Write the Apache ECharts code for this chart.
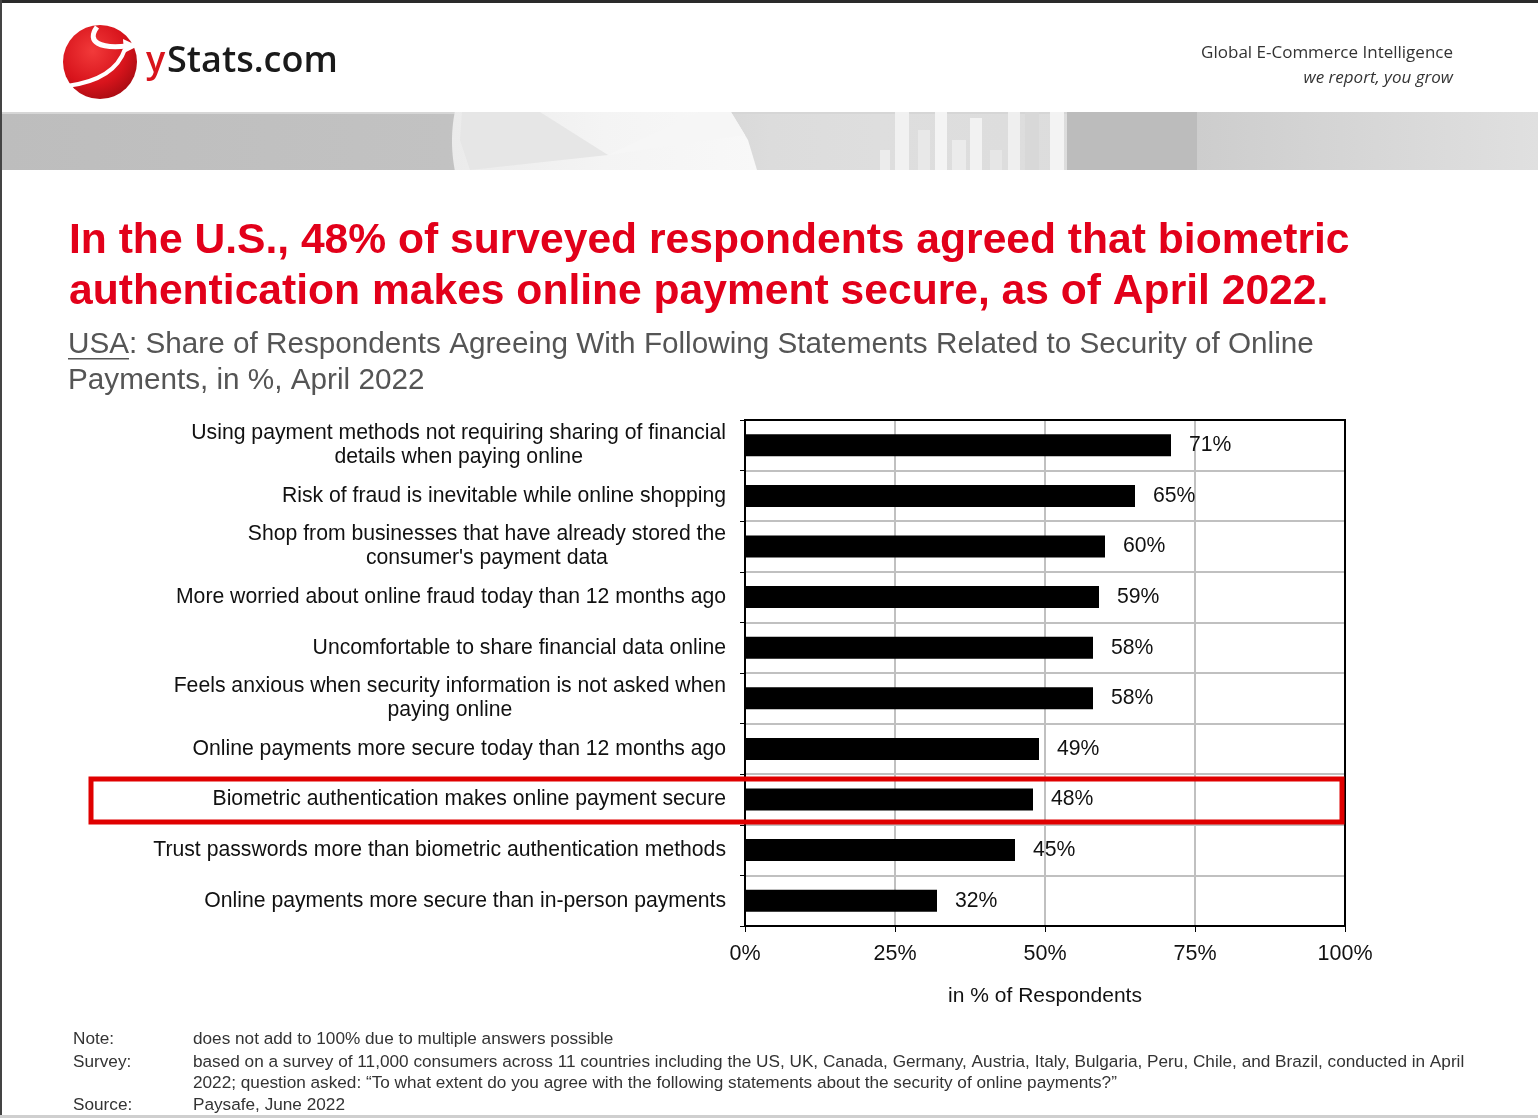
<!DOCTYPE html>
<html>
<head>
<meta charset="utf-8">
<script src="https://cdn.jsdelivr.net/npm/echarts@6/dist/echarts.min.js"></script>
<style>
html,body{margin:0;padding:0;background:#fff;}
#chart{width:1538px;height:1118px;}
</style>
</head>
<body>
<div id="chart"></div>
<script>
const categories = [
  'Using payment methods not requiring sharing of financial\ndetails when paying online',
  'Risk of fraud is inevitable while online shopping',
  'Shop from businesses that have already stored the\nconsumer\'s payment data',
  'More worried about online fraud today than 12 months ago',
  'Uncomfortable to share financial data online',
  'Feels anxious when security information is not asked when\npaying online',
  'Online payments more secure today than 12 months ago',
  'Biometric authentication makes online payment secure',
  'Trust passwords more than biometric authentication methods',
  'Online payments more secure than in-person payments'
];
const values = [71, 65, 60, 59, 58, 58, 49, 48, 45, 32];
const xTicks = [0, 25, 50, 75, 100];

const chart = echarts.init(document.getElementById('chart'), null, {renderer: 'canvas'});
const FONT = '"Liberation Sans", Arial, sans-serif';

// decorative banner pie outline (left arc)
const piePts = [];
for (let y = 112; y <= 170; y += 2) {
  const dy = y - 141;
  piePts.push([605 - Math.sqrt(153 * 153 - dy * dy), y]);
}
piePts.push([757, 170]);
piePts.push([748, 140]);
piePts.push([731, 112]);

const option = {
  animation: false,
  backgroundColor: '#ffffff',
  grid: {left: 745, top: 420, width: 600, height: 506, show: false, containLabel: false},
  xAxis: {
    type: 'value', min: xTicks[0], max: xTicks[xTicks.length - 1], interval: 25,
    axisLine: {show: true, lineStyle: {color: '#000', width: 2}},
    axisTick: {show: true, length: 6, lineStyle: {color: '#000'}},
    splitLine: {show: true, lineStyle: {color: '#c0c0c0', width: 2}},
    axisLabel: {formatter: '{value}%', fontFamily: FONT, fontSize: 21.5, color: '#111', margin: 17},
    name: 'in % of Respondents', nameLocation: 'middle', nameGap: 60,
    nameTextStyle: {fontFamily: FONT, fontSize: 21, color: '#111'}
  },
  yAxis: {
    type: 'category', data: categories, inverse: true,
    axisLine: {show: true, lineStyle: {color: '#000', width: 2}},
    axisTick: {show: true, length: 5, lineStyle: {color: '#000'}},
    splitLine: {show: true, lineStyle: {color: '#c0c0c0', width: 2}},
    axisLabel: {
      margin: 19, align: 'right', fontFamily: FONT, fontSize: 21.2, color: '#111', lineHeight: 24,
      formatter: v => v.split('\n').map(l => '{c|' + l + '}').join('\n'),
      rich: {c: {align: 'center', fontFamily: FONT, fontSize: 21.2, color: '#111', lineHeight: 24}}
    }
  },
  series: [{
    type: 'bar', data: values, barWidth: 22,
    itemStyle: {color: '#000'},
    label: {show: true, position: 'right', distance: 18, formatter: '{c}%', fontFamily: FONT, fontSize: 21.2, color: '#111'}
  }],
  graphic: [
    // frame edges
    {type: 'rect', shape: {x: 0, y: 0, width: 1538, height: 3}, style: {fill: '#2a2a2a'}, z: 100},
    {type: 'rect', shape: {x: 0, y: 0, width: 2, height: 1118}, style: {fill: '#444'}, z: 100},
    {type: 'rect', shape: {x: 0, y: 1115, width: 1538, height: 3}, style: {fill: '#cfcfcf'}, z: 100},
    // plot frame
    {type: 'rect', shape: {x: 745, y: 420, width: 600, height: 506}, style: {fill: 'none', stroke: '#000', lineWidth: 2}, z: 40},
    // banner
    {type: 'rect', shape: {x: 2, y: 112, width: 1536, height: 58},
      style: {fill: new echarts.graphic.LinearGradient(0, 0, 1, 0, [
        {offset: 0, color: '#bdbdbd'}, {offset: 0.29, color: '#c2c2c2'}, {offset: 0.5, color: '#dcdcdc'},
        {offset: 0.57, color: '#dedede'}, {offset: 1, color: '#d9d9d9'}])}},
    {type: 'rect', shape: {x: 2, y: 112, width: 1536, height: 2}, style: {fill: '#d6d6d6'}},
    {type: 'polygon', shape: {points: piePts},
      style: {fill: new echarts.graphic.LinearGradient(0, 0, 1, 0, [
        {offset: 0, color: '#ebebeb'}, {offset: 0.5, color: '#f4f4f4'}, {offset: 1, color: '#f8f8f8'}])}},
    {type: 'polygon', shape: {points: [[540, 112], [608, 155], [470, 170], [460, 140], [462, 112]]}, style: {fill: '#e6e6e6'}},
    {type: 'polygon', shape: {points: [[608, 155], [700, 112], [731, 112], [745, 135]]}, style: {fill: '#f6f6f6'}},
    {type: 'rect', shape: {x: 880, y: 150, width: 10, height: 20}, style: {fill: '#ececec'}},
    {type: 'rect', shape: {x: 895, y: 112, width: 14, height: 58}, style: {fill: '#f1f1f1'}},
    {type: 'rect', shape: {x: 918, y: 130, width: 12, height: 40}, style: {fill: '#e8e8e8'}},
    {type: 'rect', shape: {x: 935, y: 112, width: 12, height: 58}, style: {fill: '#f4f4f4'}},
    {type: 'rect', shape: {x: 952, y: 140, width: 14, height: 30}, style: {fill: '#ebebeb'}},
    {type: 'rect', shape: {x: 970, y: 118, width: 12, height: 52}, style: {fill: '#f2f2f2'}},
    {type: 'rect', shape: {x: 990, y: 150, width: 12, height: 20}, style: {fill: '#e6e6e6'}},
    {type: 'rect', shape: {x: 1008, y: 112, width: 12, height: 58}, style: {fill: '#efefef'}},
    {type: 'rect', shape: {x: 1025, y: 112, width: 14, height: 58}, style: {fill: '#d8d8d8'}},
    {type: 'rect', shape: {x: 1050, y: 112, width: 14, height: 58}, style: {fill: '#f3f3f3'}},
    {type: 'rect', shape: {x: 1067, y: 112, width: 130, height: 58}, style: {fill: '#bcbcbc'}},
    {type: 'rect', shape: {x: 1197, y: 112, width: 341, height: 58},
      style: {fill: new echarts.graphic.LinearGradient(0, 0, 1, 0, [
        {offset: 0, color: '#cdcdcd'}, {offset: 1, color: '#e0e0e0'}])}},
    // logo sphere
    {type: 'circle', shape: {cx: 100, cy: 62, r: 37},
      style: {fill: new echarts.graphic.RadialGradient(0.4, 0.35, 0.75, [
        {offset: 0, color: '#f23a3a'}, {offset: 0.6, color: '#d8141c'}, {offset: 1, color: '#9e0a10'}])}},
    {type: 'bezierCurve', shape: {x1: 97, y1: 27, cpx1: 86, cpy1: 42, cpx2: 100, cpy2: 49, x2: 127, y2: 46},
      style: {stroke: '#fff', lineWidth: 5, fill: 'none'}},
    {type: 'polygon', shape: {points: [[123, 39], [138, 46], [124, 53]]}, style: {fill: '#fff'}},
    {type: 'bezierCurve', shape: {x1: 125, y1: 49, cpx1: 118, cpy1: 70, cpx2: 98, cpy2: 82, x2: 67, y2: 86},
      style: {stroke: '#fff', lineWidth: 4, fill: 'none'}},
    {type: 'text', x: 146, y: 62, style: {text: 'y', font: '600 36px "Open Sans", sans-serif', fill: '#d8141c', verticalAlign: 'middle'}},
    {type: 'text', x: 167, y: 62, style: {text: 'Stats.com', font: '600 36px "Open Sans", sans-serif', fill: '#1a1a1a', verticalAlign: 'middle'}},
    // tagline
    {type: 'text', x: 1453, y: 53, style: {text: 'Global E-Commerce Intelligence', font: '17px "Open Sans", sans-serif', fill: '#333', align: 'right', verticalAlign: 'middle'}},
    {type: 'text', x: 1453, y: 78, style: {text: 'we report, you grow', font: 'italic 17px "Open Sans", sans-serif', fill: '#333', align: 'right', verticalAlign: 'middle'}},
    // title
    {type: 'text', x: 69, y: 241, style: {text: 'In the U.S., 48% of surveyed respondents agreed that biometric', font: 'bold 42.6px "Liberation Sans", Arial, sans-serif', fill: '#e2001a', verticalAlign: 'middle'}},
    {type: 'text', x: 69, y: 292, style: {text: 'authentication makes online payment secure, as of April 2022.', font: 'bold 42.6px "Liberation Sans", Arial, sans-serif', fill: '#e2001a', verticalAlign: 'middle'}},
    // subtitle
    {type: 'text', x: 68, y: 345, style: {text: 'USA', font: '29.7px "Liberation Sans", Arial, sans-serif', fill: '#555', verticalAlign: 'middle'}},
    {type: 'rect', shape: {x: 68, y: 358, width: 61, height: 1.5}, style: {fill: '#555'}},
    {type: 'text', x: 129, y: 345, style: {text: ': Share of Respondents Agreeing With Following Statements Related to Security of Online', font: '29.7px "Liberation Sans", Arial, sans-serif', fill: '#555', verticalAlign: 'middle'}},
    {type: 'text', x: 68, y: 381, style: {text: 'Payments, in %, April 2022', font: '29.7px "Liberation Sans", Arial, sans-serif', fill: '#555', verticalAlign: 'middle'}},
    // highlight box
    {type: 'rect', shape: {x: 91, y: 779, width: 1251, height: 43}, style: {fill: 'none', stroke: '#e00000', lineWidth: 5}, z: 50},
    // footer
    {type: 'text', x: 73, y: 1039, style: {text: 'Note:', font: '17.2px "Liberation Sans", Arial, sans-serif', fill: '#333', verticalAlign: 'middle'}},
    {type: 'text', x: 193, y: 1039, style: {text: 'does not add to 100% due to multiple answers possible', font: '17.2px "Liberation Sans", Arial, sans-serif', fill: '#333', verticalAlign: 'middle'}},
    {type: 'text', x: 73, y: 1062, style: {text: 'Survey:', font: '17.2px "Liberation Sans", Arial, sans-serif', fill: '#333', verticalAlign: 'middle'}},
    {type: 'text', x: 193, y: 1062, style: {text: 'based on a survey of 11,000 consumers across 11 countries including the US, UK, Canada, Germany, Austria, Italy, Bulgaria, Peru, Chile, and Brazil, conducted in April', font: '17.2px "Liberation Sans", Arial, sans-serif', fill: '#333', verticalAlign: 'middle'}},
    {type: 'text', x: 193, y: 1083, style: {text: '2022; question asked: \u201cTo what extent do you agree with the following statements about the security of online payments?\u201d', font: '17.2px "Liberation Sans", Arial, sans-serif', fill: '#333', verticalAlign: 'middle'}},
    {type: 'text', x: 73, y: 1105, style: {text: 'Source:', font: '17.2px "Liberation Sans", Arial, sans-serif', fill: '#333', verticalAlign: 'middle'}},
    {type: 'text', x: 193, y: 1105, style: {text: 'Paysafe, June 2022', font: '17.2px "Liberation Sans", Arial, sans-serif', fill: '#333', verticalAlign: 'middle'}}
  ]
};
chart.setOption(option);
</script>
</body>
</html>
